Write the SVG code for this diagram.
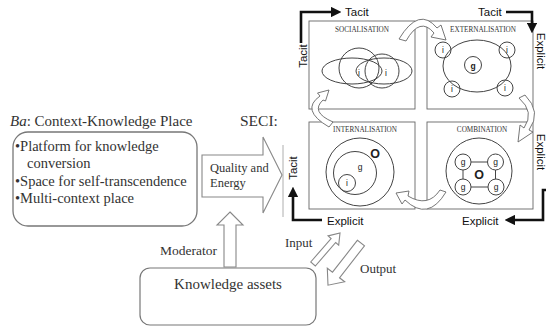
<svg xmlns="http://www.w3.org/2000/svg" width="546" height="328" viewBox="0 0 546 328">
  <defs>
    <marker id="blackHead" viewBox="0 0 10 10" refX="2" refY="5" markerWidth="4" markerHeight="4" orient="auto" markerUnits="strokeWidth">
      <path d="M0,0 L10,5 L0,10 Z" fill="#111"/>
    </marker>
    <style>
      .serif { font-family: "Liberation Serif", "Times New Roman", serif; fill: #333; }
      .quad { fill: #fff; stroke: #666; stroke-width: 0.9; }
      .ring { fill: none; stroke: #444; stroke-width: 1; }
      .qtitle { font-family: "Liberation Serif", "Times New Roman", serif; font-size: 7.2px; fill: #333; text-anchor: middle; }
      .lbl { font-family: "Liberation Sans", Arial, sans-serif; font-size: 8.5px; fill: #222; text-anchor: middle; }
      .bold { font-weight: bold; }
      .big { font-size: 12.5px; }
      .axis { font-family: "Liberation Sans", Arial, sans-serif; font-size: 11.5px; fill: #111; }
      .hollow { fill: #fff; stroke: #888; stroke-width: 1.1; stroke-linejoin: miter; }
      .curl { fill: #fff; stroke: #666; stroke-width: 0.9; }
      .conv { fill: none; stroke: #111; stroke-width: 2.6; }
    </style>
  </defs>

  <!-- Ba: context-knowledge place -->
  <g id="ba">
    <text class="serif" x="10" y="126" font-size="15"><tspan font-style="italic">Ba</tspan>: Context-Knowledge Place</text>
    <rect x="13" y="132" width="184" height="94" rx="15" fill="#fff" stroke="#777" stroke-width="1.3"/>
    <text class="serif" font-size="14.5">
      <tspan x="15" y="151">•Platform for knowledge</tspan>
      <tspan x="27" y="168">conversion</tspan>
      <tspan x="15" y="186">•Space for self-transcendence</tspan>
      <tspan x="15" y="203">•Multi-context place</tspan>
    </text>
  </g>

  <!-- SECI heading and frame edge -->
  <g id="seci-label">
    <text class="serif" x="240" y="126" font-size="15.5">SECI:</text>
    <line x1="283" y1="145" x2="283" y2="217" stroke="#999" stroke-width="0.8"/>
  </g>

  <!-- Knowledge assets -->
  <g id="knowledge-assets">
    <rect x="140" y="268" width="176" height="57" rx="10" fill="#fff" stroke="#777" stroke-width="1.2"/>
    <text class="serif" x="228" y="289" font-size="15" text-anchor="middle">Knowledge assets</text>
  </g>

  <!-- SECI quadrants -->
  <g id="socialisation">
    <rect class="quad" x="309" y="21" width="106" height="88"/>
    <text class="qtitle" x="362" y="32">SOCIALISATION</text>
    <ellipse class="ring" cx="352" cy="71" rx="30" ry="13"/>
    <ellipse class="ring" cx="384" cy="71" rx="28" ry="13"/>
    <circle class="ring" cx="359" cy="68" r="20"/>
    <circle class="ring" cx="382" cy="71" r="17"/>
    <text class="lbl" x="359" y="76">i</text>
    <text class="lbl" x="386" y="76">i</text>
  </g>

  <g id="externalisation">
    <rect class="quad" x="427" y="21" width="106" height="88"/>
    <text class="qtitle" x="483" y="32">EXTERNALISATION</text>
    <ellipse class="ring" cx="477" cy="66" rx="34" ry="26"/>
    <circle class="ring" cx="473" cy="65" r="8.5"/>
    <text class="lbl bold" x="473" y="68.5">g</text>
    <circle class="ring" cx="443" cy="50" r="8"/>
    <circle class="ring" cx="507" cy="50" r="8"/>
    <circle class="ring" cx="452" cy="89" r="8"/>
    <circle class="ring" cx="505" cy="88" r="8"/>
    <text class="lbl" x="443" y="53">i</text>
    <text class="lbl" x="507" y="53">i</text>
    <text class="lbl" x="452" y="92">i</text>
    <text class="lbl" x="505" y="91">i</text>
  </g>

  <g id="internalisation">
    <rect class="quad" x="309" y="122" width="106" height="87"/>
    <text class="qtitle" x="365" y="132">INTERNALISATION</text>
    <circle class="ring" cx="360" cy="172" r="34"/>
    <circle class="ring" cx="355" cy="173" r="21.5"/>
    <circle class="ring" cx="347" cy="183" r="8.5"/>
    <text class="lbl" x="347" y="186">i</text>
    <text class="lbl" x="360" y="170">g</text>
    <text class="lbl bold big" x="375" y="158">O</text>
  </g>

  <g id="combination">
    <rect class="quad" x="427" y="122" width="106" height="87"/>
    <text class="qtitle" x="482" y="132">COMBINATION</text>
    <circle class="ring" cx="479" cy="171" r="33"/>
    <path d="M471 162 H487.5 M463 170 V179 M495.5 170 V179 M471 187 H488" fill="none" stroke="#444" stroke-width="1"/>
    <circle class="ring" cx="463" cy="162" r="8"/>
    <circle class="ring" cx="495.5" cy="162" r="8"/>
    <circle class="ring" cx="463" cy="187" r="8"/>
    <circle class="ring" cx="496" cy="187" r="8"/>
    <text class="lbl" x="463" y="165">g</text>
    <text class="lbl" x="495.5" y="165">g</text>
    <text class="lbl" x="463" y="190">g</text>
    <text class="lbl" x="496" y="190">g</text>
    <text class="lbl bold big" x="479" y="179">O</text>
  </g>

  <!-- Connectors -->
  <g id="connectors">
    <!-- Ba to SECI -->
    <path class="hollow" d="M202 155 H263 V137 L282 175 L263 213 V197 H202 Z"/>
    <text class="serif" x="210" y="172" font-size="12.5">Quality and</text>
    <text class="serif" x="210" y="187" font-size="12.5">Energy</text>

    <!-- Knowledge assets to Ba -->
    <path class="hollow" d="M230 212 L243 225 H236 V267 H224 V225 H217 Z"/>
    <text class="serif" x="160" y="255" font-size="13.5">Moderator</text>

    <!-- Input / output between assets and SECI -->
    <path class="hollow" d="M310.7 262 L331.1 238.5 L328.1 235.9 L340 233 L338.7 245.1 L335.7 242.5 L315.3 266 Z"/>
    <text class="serif" x="285" y="247" font-size="13">Input</text>
    <path class="hollow" d="M357.5 240.2 L332.5 272.2 L327.3 268.2 L328 285.2 L344.7 281.8 L339.5 277.8 L364.5 245.8 Z"/>
    <text class="serif" x="360" y="273" font-size="13">Output</text>

    <!-- Spiral between quadrants -->
    <path class="curl" d="M399 39 Q419 6 437 28 L441 25 L446 40 L431 37 L434 33 Q420 16 406 41 Z"/>
    <path class="curl" d="M525 95 Q542 112 529 130 L533 132 L518 142 L520 125 L524 128 Q535 112 519 98 Z"/>
    <path class="curl" d="M446 192 Q428 222 405 200 L402 204 L396 193 L409 191 L408 196 Q428 208 440 190 Z"/>
    <path class="curl" d="M329 127 Q300 110 320 96 L317.5 93 L329 90 L325.5 101 L323 100 Q310 112 333 122 Z"/>

    <!-- Tacit / explicit axes -->
    <path class="conv" d="M301 43 V12 H333" marker-end="url(#blackHead)"/>
    <path class="conv" d="M506 12 H532 V25" marker-end="url(#blackHead)"/>
    <path class="conv" d="M546 190 H543 V220 H513" marker-end="url(#blackHead)"/>
    <path class="conv" d="M322 220 H293 V195" marker-end="url(#blackHead)"/>

    <text class="axis" x="345" y="16">Tacit</text>
    <text class="axis" x="478" y="16">Tacit</text>
    <text class="axis" x="327" y="225">Explicit</text>
    <text class="axis" x="462" y="225">Explicit</text>
    <text class="axis" text-anchor="middle" transform="translate(307 56) rotate(-90)">Tacit</text>
    <text class="axis" text-anchor="middle" transform="translate(297 168) rotate(-90)">Tacit</text>
    <text class="axis" text-anchor="middle" transform="translate(537 51) rotate(90)">Explicit</text>
    <text class="axis" text-anchor="middle" transform="translate(537 152) rotate(90)">Explicit</text>
  </g>
</svg>
